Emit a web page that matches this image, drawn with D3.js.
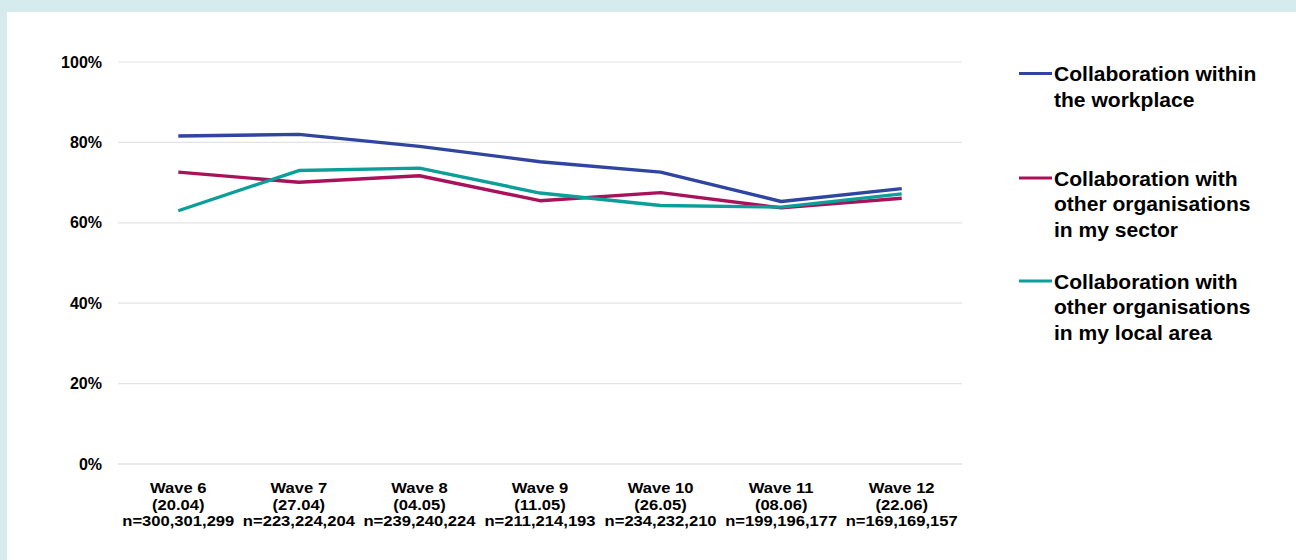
<!DOCTYPE html>
<html>
<head>
<meta charset="utf-8">
<script src="https://cdn.jsdelivr.net/npm/d3@7"></script>
<style>
  html, body { margin: 0; padding: 0; background: #d5ebee; }
  svg { display: block; }
  text { font-family: "Liberation Sans", Arial, sans-serif; font-weight: bold; fill: #000; }
</style>
</head>
<body>
<svg id="chart" width="1296" height="560"></svg>
<script>
// Survey waves (category axis)
const waves = ["Wave 6", "Wave 7", "Wave 8", "Wave 9", "Wave 10", "Wave 11", "Wave 12"];
const waveDates = ["(20.04)", "(27.04)", "(04.05)", "(11.05)", "(26.05)", "(08.06)", "(22.06)"];
const waveSizes = ["n=300,301,299", "n=223,224,204", "n=239,240,224", "n=211,214,193",
                   "n=234,232,210", "n=199,196,177", "n=169,169,157"];

// Share of respondents (%) per wave
const withinWorkplace = [81.6, 82.0, 79.0, 75.2, 72.6, 65.3, 68.5];
const sameSector      = [72.6, 70.1, 71.7, 65.5, 67.5, 63.7, 66.1];
const localArea       = [63.0, 73.0, 73.6, 67.4, 64.3, 63.9, 67.2];

const yTicks = [0, 20, 40, 60, 80, 100];

const seriesNames = [
  ["Collaboration within", "the workplace"],
  ["Collaboration with", "other organisations", "in my sector"],
  ["Collaboration with", "other organisations", "in my local area"]
];
const seriesColors = ["#2f45a0", "#a8125a", "#0c9e99"];
const seriesValues = [withinWorkplace, sameSector, localArea];

const svg = d3.select("#chart");

// white card on the tinted page
svg.append("rect").attr("x", 7).attr("y", 12).attr("width", 1289).attr("height", 548).attr("fill", "#fff");

const x = d3.scaleBand().domain(waves).range([118, 962]);
const y = d3.scaleLinear().domain([0, 100]).range([464, 62]);

// horizontal gridlines
svg.append("g")
  .selectAll("line")
  .data(yTicks)
  .join("line")
  .attr("x1", 118).attr("x2", 962)
  .attr("y1", d => y(d)).attr("y2", d => y(d))
  .attr("stroke", d => d === 0 ? "#d4d4d4" : "#e3e3e3")
  .attr("stroke-width", 1.2);

// y axis labels
const yAxis = d3.axisLeft(y).tickValues(yTicks).tickFormat(d => d + "%").tickSize(0).tickPadding(16);
const yg = svg.append("g").attr("transform", "translate(118,0)").call(yAxis);
yg.select(".domain").remove();
yg.selectAll("text").attr("font-size", 16).attr("font-family", "Liberation Sans, Arial, sans-serif").attr("font-weight", "bold").attr("fill", "#000");

// x axis labels (three lines each)
const xg = svg.append("g");
waves.forEach((w, i) => {
  const cx = x(w) + x.bandwidth() / 2;
  const t = xg.append("text")
    .attr("text-anchor", "middle")
    .attr("font-size", 15.5)
    .attr("transform", `translate(${cx},0) scale(1.07,1)`);
  [w, waveDates[i], waveSizes[i]].forEach((s, k) => {
    t.append("tspan").attr("x", 0).attr("y", 493.5 + k * 16.5).text(s);
  });
});

// series lines
const line = d3.line()
  .x((d, i) => x(waves[i]) + x.bandwidth() / 2)
  .y(d => y(d));

seriesValues.forEach((vals, s) => {
  svg.append("path")
    .datum(vals)
    .attr("fill", "none")
    .attr("stroke", seriesColors[s])
    .attr("stroke-width", 3.4)
    .attr("stroke-linejoin", "round")
    .attr("d", line);
});

// legend
const legendY = [73.5, 178, 281];
seriesNames.forEach((lines, s) => {
  const g = svg.append("g").attr("transform", `translate(1019,${legendY[s]})`);
  g.append("line").attr("x1", 0).attr("x2", 33).attr("y1", 0).attr("y2", 0)
    .attr("stroke", seriesColors[s]).attr("stroke-width", 3.2);
  const t = g.append("text").attr("font-size", 19.5).attr("transform", "translate(35,0) scale(1.08,1)");
  lines.forEach((s2, k) => {
    t.append("tspan").attr("x", 0).attr("y", 7.5 + k * 26).text(s2);
  });
});
</script>
</body>
</html>
